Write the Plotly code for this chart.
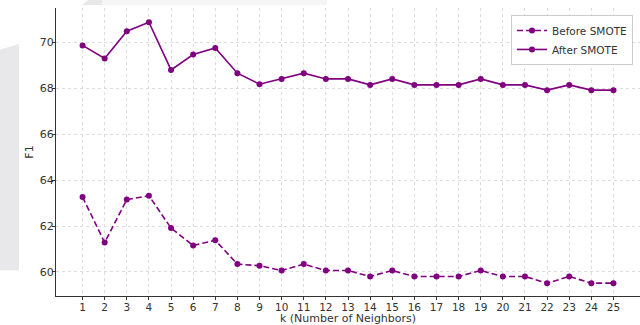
import plotly.graph_objects as go

# F1 score for each k, before and after SMOTE oversampling
k_values = list(range(1, 26))
before_smote = [63.26, 61.28, 63.15, 63.32, 61.91, 61.15, 61.38, 60.34, 60.27, 60.06,
                60.34, 60.06, 60.06, 59.80, 60.06, 59.80, 59.80, 59.80, 60.06, 59.80,
                59.80, 59.51, 59.80, 59.51, 59.51]
after_smote = [69.87, 69.30, 70.49, 70.88, 68.80, 69.47, 69.76, 68.66, 68.18, 68.41,
               68.66, 68.41, 68.41, 68.15, 68.41, 68.15, 68.15, 68.15, 68.41, 68.15,
               68.15, 67.92, 68.15, 67.92, 67.92]
y_ticks = [60, 62, 64, 66, 68, 70]

PURPLE = "#800080"
FONT = "DejaVu Sans"
TEXT = "#333333"

# plot area in pixels (for placing background decorations)
W, H = 640, 325
L, R, T, B = 56, 0, 8, 27
pw, ph = W - L - R, H - T - B


def px(x):
    return (x - L) / pw


def py(y):
    return (H - B - y) / ph


fig = go.Figure()
fig.add_trace(go.Scatter(
    x=k_values, y=before_smote, name="Before SMOTE", mode="lines+markers",
    line=dict(color=PURPLE, width=1.6, dash="6px,3px"),
    marker=dict(color=PURPLE, size=6),
))
fig.add_trace(go.Scatter(
    x=k_values, y=after_smote, name="After SMOTE", mode="lines+markers",
    line=dict(color=PURPLE, width=1.6),
    marker=dict(color=PURPLE, size=6),
))

# faint background panels behind the figure
shapes = [
    dict(type="path", xref="paper", yref="paper", layer="below",
         path=f"M {px(0)},{py(50)} L {px(19)},{py(44)} L {px(19)},{py(272)} L {px(0)},{py(272)} Z",
         fillcolor="#e8e8eb", line=dict(width=0)),
    dict(type="path", xref="paper", yref="paper", layer="below",
         path=f"M {px(82)},{py(5)} L {px(88)},{py(0)} L {px(102)},{py(0)} L {px(102)},{py(5)} Z",
         fillcolor="#e8e8eb", line=dict(width=0)),
    dict(type="rect", xref="paper", yref="paper", layer="below",
         x0=px(102), x1=px(327), y0=py(5), y1=py(0),
         fillcolor="#f5f5f5", line=dict(width=0)),
]

axis_common = dict(
    showline=True, linecolor=TEXT, linewidth=1,
    showgrid=True, gridcolor="#dcdcdc", gridwidth=1, griddash="dot",
    zeroline=False, ticks="outside", ticklen=3, tickwidth=1, tickcolor=TEXT,
    tickfont=dict(family=FONT, size=11, color=TEXT),
    mirror=False,
)

fig.update_layout(
    width=W, height=H,
    margin=dict(l=L, r=R, t=T, b=B),
    paper_bgcolor="white", plot_bgcolor="rgba(0,0,0,0)",
    font=dict(family=FONT, size=11, color=TEXT),
    shapes=shapes,
    xaxis=dict(
        axis_common, range=[-0.2, 26.2], tickmode="array",
        tickvals=k_values, ticktext=[str(k) for k in k_values],
        tickfont=dict(family=FONT, size=10.5, color=TEXT),
        ticklabelstandoff=-2,
        title=dict(text="k (Number of Neighbors)", standoff=5,
                   font=dict(family=FONT, size=11, color=TEXT)),
    ),
    yaxis=dict(
        axis_common, range=[58.95, 71.5], tickmode="array",
        tickvals=y_ticks, ticktext=[str(v) for v in y_ticks],
        ticklabelstandoff=-4,
        title=dict(text="F1", standoff=3,
                   font=dict(family=FONT, size=11, color=TEXT)),
    ),
    legend=dict(
        x=px(633), y=py(15), xanchor="right", yanchor="top",
        bgcolor="white", bordercolor="#cccccc", borderwidth=1,
        font=dict(family=FONT, size=10.5, color=TEXT),
        tracegroupgap=0, itemwidth=30,
    ),
    showlegend=True,
)

fig.write_html("out.html")
